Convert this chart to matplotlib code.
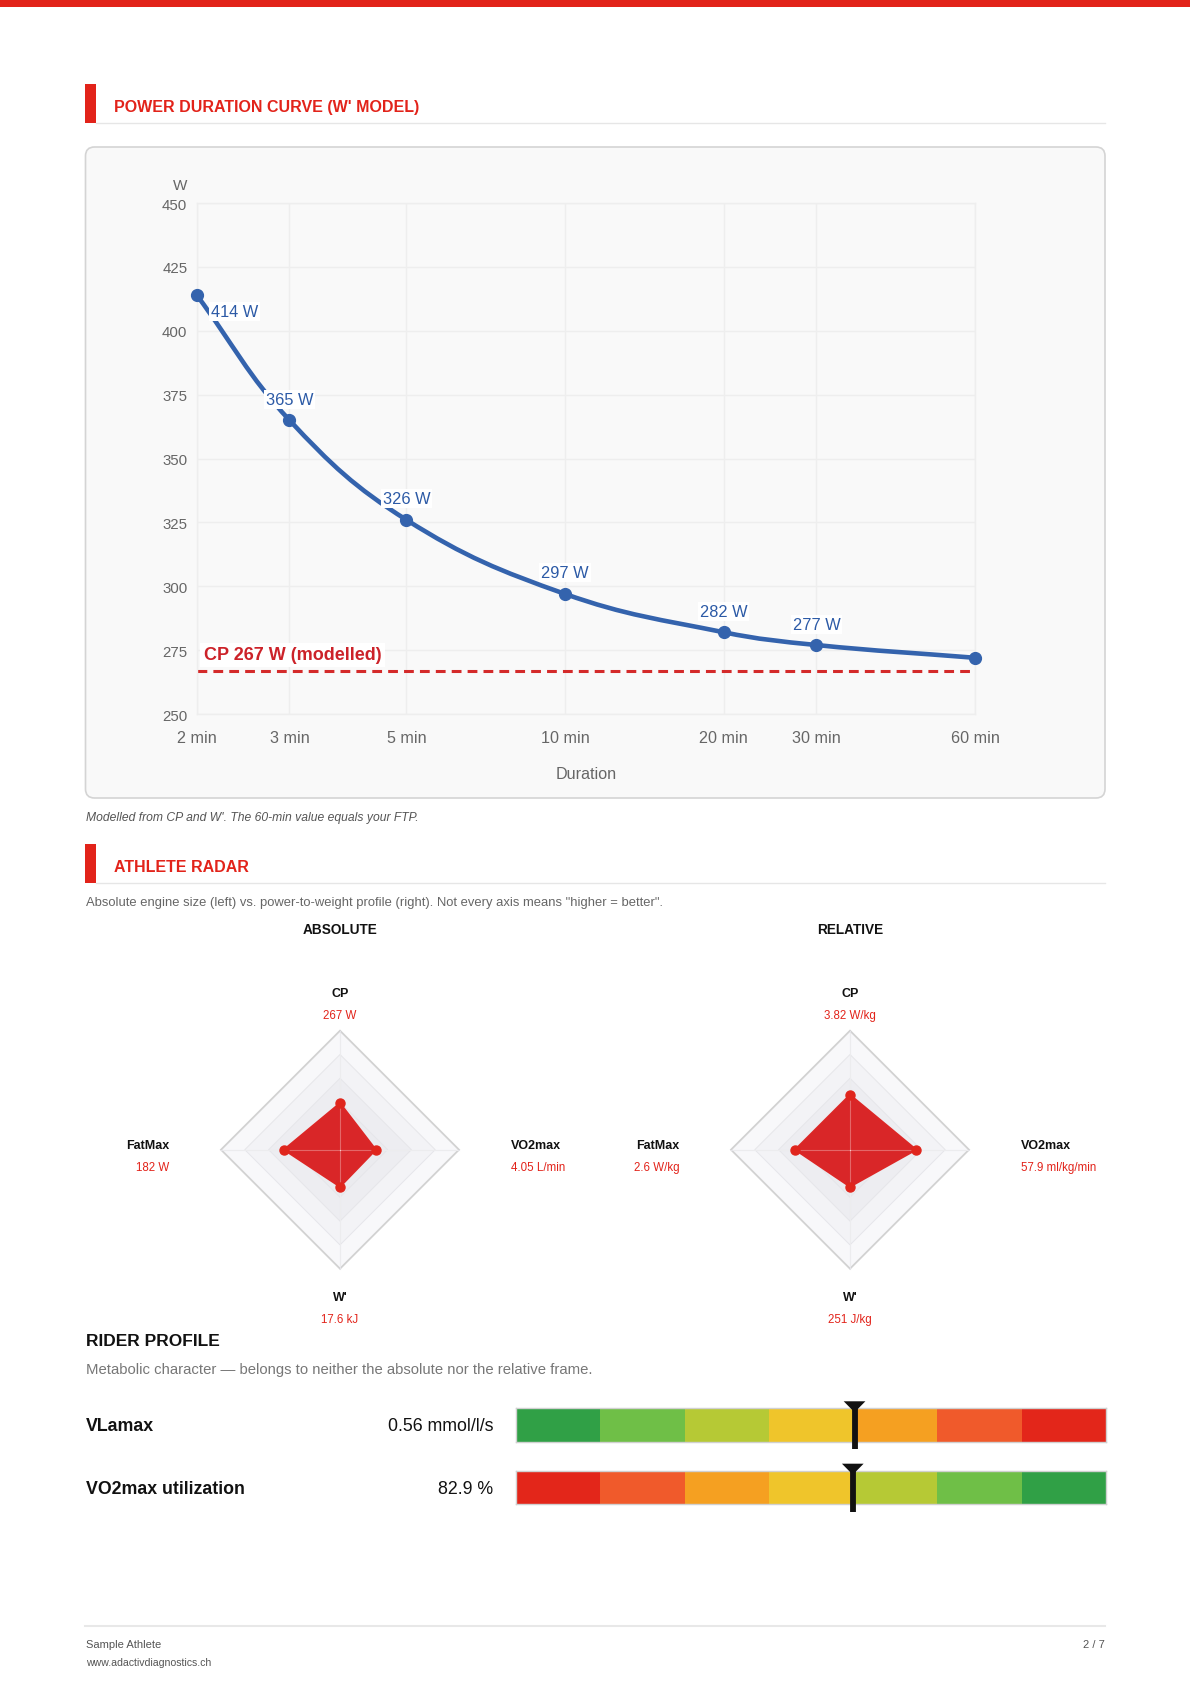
"""
plot.py

Power duration curve, athlete radar and rider profile page.
"""

import numpy as np
import matplotlib

matplotlib.use("Agg")
import matplotlib.pyplot as plt
from matplotlib.patches import Rectangle, FancyBboxPatch, PathPatch
from matplotlib.path import Path
from matplotlib.ticker import NullLocator

plt.rcParams["font.family"] = ["Liberation Sans", "DejaVu Sans"]

# power duration curve
durations_min = [2, 3, 5, 10, 20, 30, 60]
duration_labels = ["2 min", "3 min", "5 min", "10 min", "20 min", "30 min", "60 min"]
power_w = [414, 365, 326, 297, 282, 277, 272]
point_labels = ["414 W", "365 W", "326 W", "297 W", "282 W", "277 W", ""]
cp_w = 267
y_ticks = [250, 275, 300, 325, 350, 375, 400, 425, 450]

# athlete radar (scores are 0..1 of the radar scale)
radar_axes = ["CP", "VO2max", "W'", "FatMax"]
abs_scores = [0.39, 0.30, 0.31, 0.47]
abs_values = ["267 W", "4.05 L/min", "17.6 kJ", "182 W"]
rel_scores = [0.46, 0.555, 0.31, 0.46]
rel_values = ["3.82 W/kg", "57.9 ml/kg/min", "251 J/kg", "2.6 W/kg"]

# rider profile
profile_names = ["VLamax", "VO2max utilization"]
profile_values = ["0.56 mmol/l/s", "82.9 %"]
profile_marker = [0.574, 0.571]
profile_reversed = [False, True]
zone_colors = ["#30a046", "#6fbf47", "#b6c935", "#efc52b", "#f5a021", "#f05a2b", "#e3261a"]

RED = "#e2231a"
BLUE = "#3463ad"
W_PX, H_PX = 1190, 1683


def frac(left, top, right, bottom):
    return [left / W_PX, 1 - bottom / H_PX, (right - left) / W_PX, (bottom - top) / H_PX]


def smooth_path(ax, xs, ys, tension=0.4):
    """
    Cubic spline through the points, built in pixel space.
    """
    pts = ax.transData.transform(np.column_stack([xs, ys]))
    n = len(pts)
    c_prev = np.zeros_like(pts)
    c_next = np.zeros_like(pts)
    for i in range(n):
        p0 = pts[max(i - 1, 0)]
        p1 = pts[i]
        p2 = pts[min(i + 1, n - 1)]
        d01 = np.hypot(*(p1 - p0))
        d12 = np.hypot(*(p2 - p1))
        tot = d01 + d12
        s01 = d01 / tot if tot else 0
        s12 = d12 / tot if tot else 0
        c_prev[i] = p1 - tension * s01 * (p2 - p0)
        c_next[i] = p1 + tension * s12 * (p2 - p0)
    verts = [pts[0]]
    codes = [Path.MOVETO]
    for i in range(n - 1):
        verts += [c_next[i], c_prev[i + 1], pts[i + 1]]
        codes += [Path.CURVE4] * 3
    data = ax.transData.inverted().transform(np.array(verts))
    return Path(data, codes)


fig = plt.figure(figsize=(11.9, 16.83), dpi=100)

bg = fig.add_axes([0, 0, 1, 1])
bg.set_xlim(0, W_PX)
bg.set_ylim(H_PX, 0)
bg.axis("off")

# top bar
bg.add_patch(Rectangle((0, 0), W_PX, 8, color=RED, lw=0))


def section_header(y_top, y_bot, title):
    bg.add_patch(Rectangle((85, y_top), 11, y_bot - y_top, color=RED, lw=0))
    bg.plot([96, 1105], [y_bot, y_bot], color="#e6e6e6", lw=1)
    bg.text(114, (y_top + y_bot) / 2 + 3, title, color=RED, fontsize=11.5,
            fontweight="bold", va="center", ha="left")


section_header(85, 124, "POWER DURATION CURVE (W' MODEL)")

# chart card
bg.add_patch(FancyBboxPatch((85.5, 148), 1019.5, 651,
                            boxstyle="round,pad=0,rounding_size=9",
                            fc="#f9f9f9", ec="#d4d4d4", lw=1.2))

ax = fig.add_axes(frac(196.7, 204, 975, 715))
ax.set_facecolor("none")
ax.set_xscale("log")
ax.set_xlim(2, 60)
ax.set_ylim(250, 450)
ax.set_xticks(durations_min)
ax.set_xticklabels(duration_labels)
ax.xaxis.set_minor_locator(NullLocator())
ax.set_yticks(y_ticks)
ax.grid(True, color="#eeeeee", lw=1)
ax.set_axisbelow(True)
for s in ax.spines.values():
    s.set_color("#eeeeee")
    s.set_linewidth(1)
ax.tick_params(axis="x", length=0, labelsize=11.6, colors="#666", pad=11.5)
ax.tick_params(axis="y", length=0, labelsize=10.8, colors="#666", pad=6.8)

# CP dashed line
ax.plot([durations_min[0], durations_min[-1] * 0.985], [cp_w, cp_w], color="#d42a2a",
        lw=2.2, dashes=(3.2, 2.0), zorder=2)
ax.annotate(f"CP {cp_w} W (modelled)", xy=(durations_min[0], cp_w),
            xytext=(5.3, 11.3), textcoords="offset points", ha="left", va="center",
            color="#cc2229", fontsize=13, fontweight="bold",
            bbox=dict(boxstyle="square,pad=0.2", fc="white", ec="none"), zorder=3)

# curve
ax.add_patch(PathPatch(smooth_path(ax, durations_min, power_w), fc="none", ec=BLUE,
                       lw=3.3, capstyle="round", zorder=4))
ax.plot(durations_min, power_w, "o", color=BLUE, ms=8.5, clip_on=False, zorder=5)
for i, (d, p, lab) in enumerate(zip(durations_min, power_w, point_labels)):
    if not lab:
        continue
    offset = (27.4, -12.2) if i == 0 else (0, 15.1)
    ax.annotate(lab, xy=(d, p), xytext=offset, textcoords="offset points",
                ha="center", va="center", color="#2c5aa6", fontsize=11.8,
                bbox=dict(boxstyle="square,pad=0.12", fc="white", ec="none"), zorder=6)

bg.text(187.3, 186, "W", ha="right", va="center", color="#666", fontsize=11)
bg.text(586, 775, "Duration", ha="center", va="center", color="#666", fontsize=11.6)
bg.text(86, 818, "Modelled from CP and W'. The 60-min value equals your FTP.",
        ha="left", va="center", color="#555", fontsize=8.75, style="italic")

# athlete radar
section_header(845, 884, "ATHLETE RADAR")
bg.text(86, 903, "Absolute engine size (left) vs. power-to-weight profile (right). "
        "Not every axis means \"higher = better\".",
        ha="left", va="center", color="#666", fontsize=9.4)

R = 119
ring_colors = ["#f8f8fa", "#f3f3f6", "#ededf1", "#ebebef", "#eaeaee"]


def draw_radar(cx, cy, title, scores, values):
    bg.text(cx, 930, title, ha="center", va="center", fontsize=9.8,
            fontweight="bold", color="#111")
    rax = fig.add_axes(frac(cx - 1.1 * R, cy - 1.1 * R, cx + 1.1 * R, cy + 1.1 * R))
    rax.set_xlim(-1.1, 1.1)
    rax.set_ylim(-1.1, 1.1)
    rax.axis("off")
    ang = np.pi / 2 - np.arange(len(scores)) * np.pi / 2
    cs, sn = np.cos(ang), np.sin(ang)
    levels = [1.0, 0.8, 0.6, 0.4, 0.2]
    for lev, col in zip(levels, ring_colors):
        rax.fill(lev * cs, lev * sn, color=col, lw=0, zorder=1)
    for lev in levels:
        rax.fill(lev * cs, lev * sn, fc="none",
                 ec="#d2d2d2" if lev == 1.0 else "#e6e6ea",
                 lw=1.3 if lev == 1.0 else 0.7, zorder=2)
    for c, s in zip(cs, sn):
        rax.plot([0, c], [0, s], color="#e4e4e8", lw=0.8, zorder=2)
    sc = np.array(scores)
    rax.fill(sc * cs, sc * sn, color="#d92628", lw=1.5, ec="#dc2626", zorder=3)
    for c, s in zip(cs, sn):
        rax.plot([0, c * 0.98], [0, s * 0.98], color="white", alpha=0.3, lw=0.8, zorder=3.5)
    rax.plot(sc * cs, sc * sn, "o", color="#e0251c", ms=6.5, zorder=4)

    # axis labels
    spots = [((0, 1.317), (0, 1.134), "center"),
             ((1.437, 0.04), (1.437, -0.143), "left"),
             ((0, -1.238), (0, -1.423), "center"),
             ((-1.431, 0.04), (-1.431, -0.143), "right")]
    for name, val, (p_name, p_val, ha) in zip(radar_axes, values, spots):
        rax.text(*p_name, name, ha=ha, va="center", fontsize=9, fontweight="bold",
                 color="#111")
        rax.text(*p_val, val, ha=ha, va="center", fontsize=8.3, color=RED)


draw_radar(340, 1150.7, "ABSOLUTE", abs_scores, abs_values)
draw_radar(850, 1150.7, "RELATIVE", rel_scores, rel_values)

# rider profile
bg.text(86, 1342, "RIDER PROFILE", ha="left", va="center", fontsize=12.5,
        fontweight="bold", color="#111")
bg.text(86, 1370, "Metabolic character \u2014 belongs to neither the absolute nor the relative frame.",
        ha="left", va="center", fontsize=10.7, color="#777")

row_tops = [1409.3, 1471.7]
bar_h = 33.4
for name, val, pos, rev, top in zip(profile_names, profile_values, profile_marker,
                                    profile_reversed, row_tops):
    mid = top + bar_h / 2
    bg.text(86, mid + 1, name, ha="left", va="center", fontsize=12.8,
            fontweight="bold", color="#111")
    bg.text(493.5, mid + 1, val, ha="right", va="center", fontsize=12.8, color="#111")

    gax = fig.add_axes(frac(516, top, 1105.8, top + bar_h))
    cols = zone_colors[::-1] if rev else zone_colors
    n = len(cols)
    gax.barh(np.full(n, 0.5), np.ones(n), left=np.arange(n), height=1,
             color=cols, lw=0)
    gax.set_xlim(0, n)
    gax.set_ylim(0, 1)
    gax.set_xticks([])
    gax.set_yticks([])
    for s in gax.spines.values():
        s.set_color("#d0d0d0")
        s.set_linewidth(1)
    mx = pos * n
    half = 10.85 / 589.8 * n
    gax.plot([mx, mx], [-0.23, 1.1], color="#111", lw=4.2,
             solid_capstyle="butt", clip_on=False, zorder=5)
    gax.fill([mx - half, mx + half, mx], [1.21, 1.21, 0.88], color="#111",
             lw=0, clip_on=False, zorder=6)

# footer
bg.plot([85, 1105], [1627, 1627], color="#e8e8e8", lw=1.5)
bg.text(86, 1645, "Sample Athlete", ha="left", va="center", fontsize=8, color="#555")
bg.text(86, 1663, "www.adactivdiagnostics.ch", ha="left", va="center", fontsize=7.6,
        color="#555")
bg.text(1105, 1645, "2 / 7", ha="right", va="center", fontsize=8, color="#555")

fig.savefig("out.png", dpi=100)
